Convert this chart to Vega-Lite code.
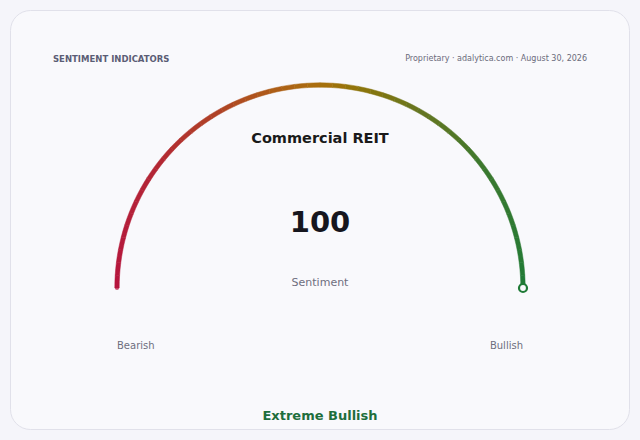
{
  "$schema": "https://vega.github.io/schema/vega-lite/v6.json",
  "width": 640,
  "height": 440,
  "autosize": {"type": "fit", "contains": "padding"},
  "padding": 0,
  "background": "#f5f5fa",
  "config": {"view": {"stroke": null}, "font": "DejaVu Sans"},
  "datasets": {
    "gauge": [
      {"v": 1, "w": 1}, {"v": 3, "w": 1}, {"v": 5, "w": 1}, {"v": 7, "w": 1}, {"v": 9, "w": 1},
      {"v": 11, "w": 1}, {"v": 13, "w": 1}, {"v": 15, "w": 1}, {"v": 17, "w": 1}, {"v": 19, "w": 1},
      {"v": 21, "w": 1}, {"v": 23, "w": 1}, {"v": 25, "w": 1}, {"v": 27, "w": 1}, {"v": 29, "w": 1},
      {"v": 31, "w": 1}, {"v": 33, "w": 1}, {"v": 35, "w": 1}, {"v": 37, "w": 1}, {"v": 39, "w": 1},
      {"v": 41, "w": 1}, {"v": 43, "w": 1}, {"v": 45, "w": 1}, {"v": 47, "w": 1}, {"v": 49, "w": 1},
      {"v": 51, "w": 1}, {"v": 53, "w": 1}, {"v": 55, "w": 1}, {"v": 57, "w": 1}, {"v": 59, "w": 1},
      {"v": 61, "w": 1}, {"v": 63, "w": 1}, {"v": 65, "w": 1}, {"v": 67, "w": 1}, {"v": 69, "w": 1},
      {"v": 71, "w": 1}, {"v": 73, "w": 1}, {"v": 75, "w": 1}, {"v": 77, "w": 1}, {"v": 79, "w": 1},
      {"v": 81, "w": 1}, {"v": 83, "w": 1}, {"v": 85, "w": 1}, {"v": 87, "w": 1}, {"v": 89, "w": 1},
      {"v": 91, "w": 1}, {"v": 93, "w": 1}, {"v": 95, "w": 1}, {"v": 97, "w": 1}, {"v": 99, "w": 1}
    ],
    "reading": [
      {
        "header": "SENTIMENT INDICATORS",
        "source": "Proprietary · adalytica.com · August 30, 2026",
        "sector": "Commercial REIT",
        "score": 100,
        "label": "Sentiment",
        "low": "Bearish",
        "high": "Bullish",
        "zone": "Extreme Bullish"
      }
    ]
  },
  "layer": [
    {
      "data": {"name": "reading"},
      "mark": {
        "type": "rect",
        "x": 10.5, "y": 10.5,
        "x2": {"expr": "width - 10.5"}, "y2": {"expr": "height - 10.5"},
        "cornerRadius": 20,
        "fill": "#f9f9fc",
        "stroke": "#e1e1ea",
        "strokeWidth": 1
      },
      "encoding": {}
    },
    {
      "data": {"name": "gauge"},
      "mark": {
        "type": "arc",
        "x": {"expr": "width / 2"},
        "y": {"expr": "height - 152"},
        "innerRadius": 200.8,
        "outerRadius": 205.2,
        "strokeWidth": 0.5
      },
      "encoding": {
        "theta": {
          "field": "w", "type": "quantitative", "stack": true,
          "scale": {"domain": [0, 50], "range": [-1.5707963, 1.5707963]}
        },
        "order": {"field": "v", "type": "quantitative"},
        "color": {
          "field": "v", "type": "quantitative", "legend": null,
          "scale": {
            "domain": [0, 20.5, 33.3, 50, 66.7, 79.5, 100],
            "range": ["#b5143e", "#b32634", "#af4226", "#a9700e", "#647522", "#3b782e", "#1f7a36"]
          }
        },
        "stroke": {
          "field": "v", "type": "quantitative", "legend": null,
          "scale": {
            "domain": [0, 20.5, 33.3, 50, 66.7, 79.5, 100],
            "range": ["#b5143e", "#b32634", "#af4226", "#a9700e", "#647522", "#3b782e", "#1f7a36"]
          }
        }
      }
    },
    {
      "data": {"name": "reading"},
      "mark": {
        "type": "point", "shape": "circle", "filled": true,
        "x": {"expr": "width / 2 - 203"},
        "y": {"expr": "height - 152"},
        "size": 17,
        "color": "#b5143e"
      },
      "encoding": {}
    },
    {
      "data": {"name": "reading"},
      "mark": {
        "type": "point", "shape": "circle", "filled": true,
        "x": {"expr": "width / 2 + 203"},
        "y": {"expr": "height - 152"},
        "size": 64,
        "fill": "#f9f9fc",
        "stroke": "#1f7a36",
        "strokeWidth": 2.2,
        "opacity": 1
      },
      "encoding": {}
    },
    {
      "data": {"name": "reading"},
      "mark": {
        "type": "text", "x": 53, "y": 59, "align": "left", "baseline": "middle",
        "fontSize": 8.5, "fontWeight": "bold", "letterSpacing": 0.1, "color": "#5b5d75"
      },
      "encoding": {"text": {"field": "header"}}
    },
    {
      "data": {"name": "reading"},
      "mark": {
        "type": "text", "x": {"expr": "width - 53"}, "y": 59, "align": "right", "baseline": "middle",
        "fontSize": 8, "color": "#6b6b7b"
      },
      "encoding": {"text": {"field": "source"}}
    },
    {
      "data": {"name": "reading"},
      "mark": {
        "type": "text", "x": {"expr": "width / 2"}, "y": 138.5, "align": "center", "baseline": "middle",
        "fontSize": 14.5, "fontWeight": "bold", "color": "#1a1a1a"
      },
      "encoding": {"text": {"field": "sector"}}
    },
    {
      "data": {"name": "reading"},
      "mark": {
        "type": "text", "x": {"expr": "width / 2"}, "y": 222.5, "align": "center", "baseline": "middle",
        "fontSize": 29, "fontWeight": "bold", "color": "#16161e"
      },
      "encoding": {"text": {"field": "score", "type": "quantitative"}}
    },
    {
      "data": {"name": "reading"},
      "mark": {
        "type": "text", "x": {"expr": "width / 2"}, "y": 282.5, "align": "center", "baseline": "middle",
        "fontSize": 11, "color": "#6e6e7e"
      },
      "encoding": {"text": {"field": "label"}}
    },
    {
      "data": {"name": "reading"},
      "mark": {
        "type": "text", "x": {"expr": "width / 2 - 203"}, "y": 346, "align": "left", "baseline": "middle",
        "fontSize": 10, "color": "#6e6e7e"
      },
      "encoding": {"text": {"field": "low"}}
    },
    {
      "data": {"name": "reading"},
      "mark": {
        "type": "text", "x": {"expr": "width / 2 + 203"}, "y": 346, "align": "right", "baseline": "middle",
        "fontSize": 10, "color": "#6e6e7e"
      },
      "encoding": {"text": {"field": "high"}}
    },
    {
      "data": {"name": "reading"},
      "mark": {
        "type": "text", "x": {"expr": "width / 2"}, "y": 415.5, "align": "center", "baseline": "middle",
        "fontSize": 13, "fontWeight": "bold", "color": "#1e6e3c"
      },
      "encoding": {"text": {"field": "zone"}}
    }
  ]
}
